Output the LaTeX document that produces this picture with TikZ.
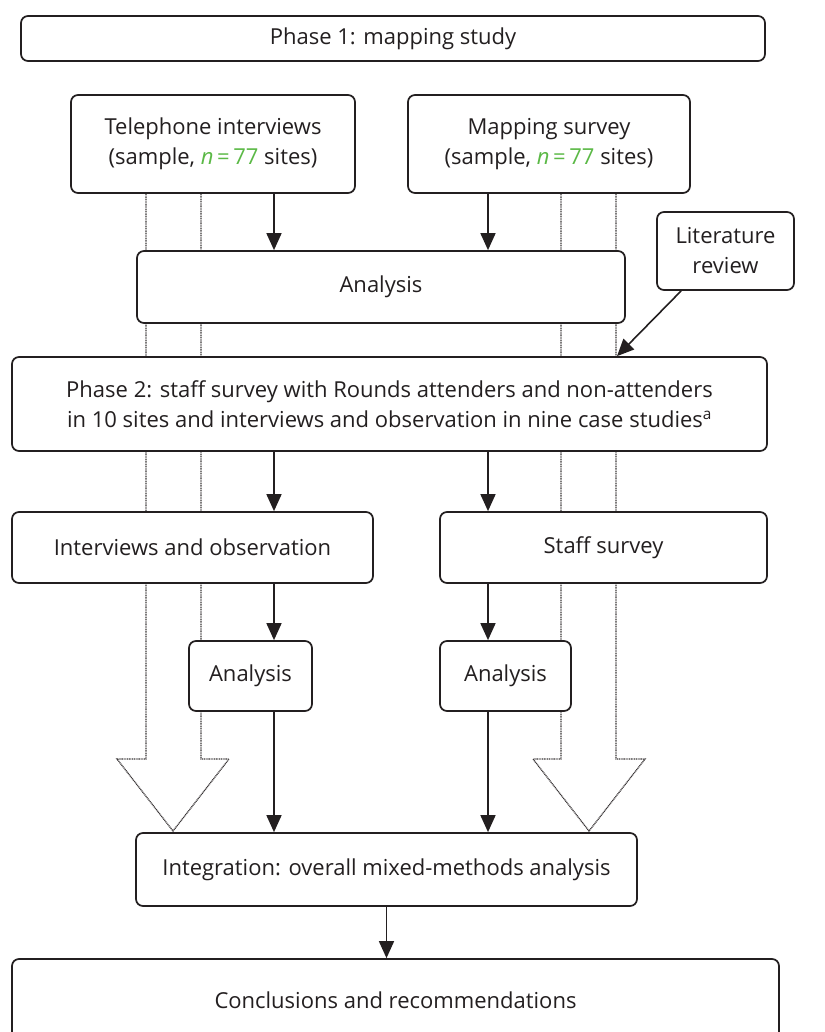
\documentclass[tikz,border=0pt]{standalone}
\usepackage{fontspec}
\setmainfont{Open Sans}
\usetikzlibrary{arrows.meta,calc,backgrounds}
\definecolor{ink}{HTML}{231F20}
\definecolor{grn}{HTML}{5BB946}
\begin{document}
\begin{tikzpicture}[x=1pt,y=-1pt,
  box/.style={draw=ink, line width=1.7pt, rounded corners=7pt, fill=white, align=center,
    inner sep=0pt, text=ink, font=\fontsize{22}{30}\selectfont},
  arr/.style={draw=ink, line width=1.6pt, -{Triangle[length=17pt,width=15pt]}},
  hollow/.style={draw=ink!90, line width=1.3pt, dash pattern=on 1pt off 0.7pt}]
\useasboundingbox (0,0) rectangle (824,1032);
\clip (0,0) rectangle (824,1032);

% column positions
\coordinate (xl) at (274,0);
\coordinate (xr) at (488,0);
\coordinate (d1) at (146,0);
\coordinate (d2) at (201,0);
\coordinate (d3) at (561,0);
\coordinate (d4) at (616,0);

\node[box, minimum width=744pt, minimum height=45pt] (p1) at (393,38.5) {Phase 1: mapping study};
\node[box, minimum width=284pt, minimum height=98pt] (tel) at (213,144)
  {Telephone interviews\\(sample, {\color{grn}\textit{n}\,=\,77} sites)};
\node[box, minimum width=282pt, minimum height=98pt] (map) at (549,144)
  {Mapping survey\\(sample, {\color{grn}\textit{n}\,=\,77} sites)};
\node[box, minimum width=488pt, minimum height=72pt] (ana) at (381,287) {Analysis};
\node[box, minimum width=137pt, minimum height=78pt] (lit) at (725.5,251) {Literature\\review};
\node[box, minimum width=755pt, minimum height=94pt] (p2) at (389.5,404)
  {Phase 2: staff survey with Rounds attenders and non-attenders\\
   in 10 sites and interviews and observation in nine case studies\textsuperscript{a}};
\node[box, minimum width=361pt, minimum height=71pt] (iao) at (192.5,547.5) {Interviews and observation};
\node[box, minimum width=327pt, minimum height=71pt] (ss) at (603.5,547.5) {Staff survey};
\node[box, minimum width=123pt, minimum height=70pt] (a1) at (250.5,676) {Analysis};
\node[box, minimum width=131pt, minimum height=70pt] (a2) at (505.5,676) {Analysis};
\node[box, minimum width=501pt, minimum height=73pt] (ig) at (386.5,869.5) {Integration: overall mixed-methods analysis};
\node[box, minimum width=767pt, minimum height=82pt] (cc) at (395.5,1000) {Conclusions and recommendations};

\begin{scope}[on background layer]
  \draw[hollow] (d1 |- tel.south) -- (146,759) -- (117,759) -- (173,831) -- (229,759) -- (201,759) -- (d2 |- tel.south);
  \draw[hollow] (d3 |- map.south) -- (561,759) -- (533,759) -- (589,831) -- (645,759) -- (616,759) -- (d4 |- map.south);
\end{scope}

\draw[arr] (xl |- tel.south) -- (xl |- ana.north);
\draw[arr] (xr |- map.south) -- (xr |- ana.north);
\coordinate (litfoot) at ($(lit.south west)+(25,0)$);
\coordinate (xlit) at (617,0);
\draw[arr] (litfoot) -- (xlit |- p2.north);
\draw[arr] (xl |- p2.south) -- (xl |- iao.north);
\draw[arr] (xr |- p2.south) -- (xr |- ss.north);
\draw[arr] (xl |- iao.south) -- (xl |- a1.north);
\draw[arr] (xr |- ss.south) -- (xr |- a2.north);
\draw[arr] (xl |- a1.south) -- (xl |- ig.north);
\draw[arr] (xr |- a2.south) -- (xr |- ig.north);
\draw[arr] (ig.south) -- (ig.south |- cc.north);
\end{tikzpicture}
\end{document}
